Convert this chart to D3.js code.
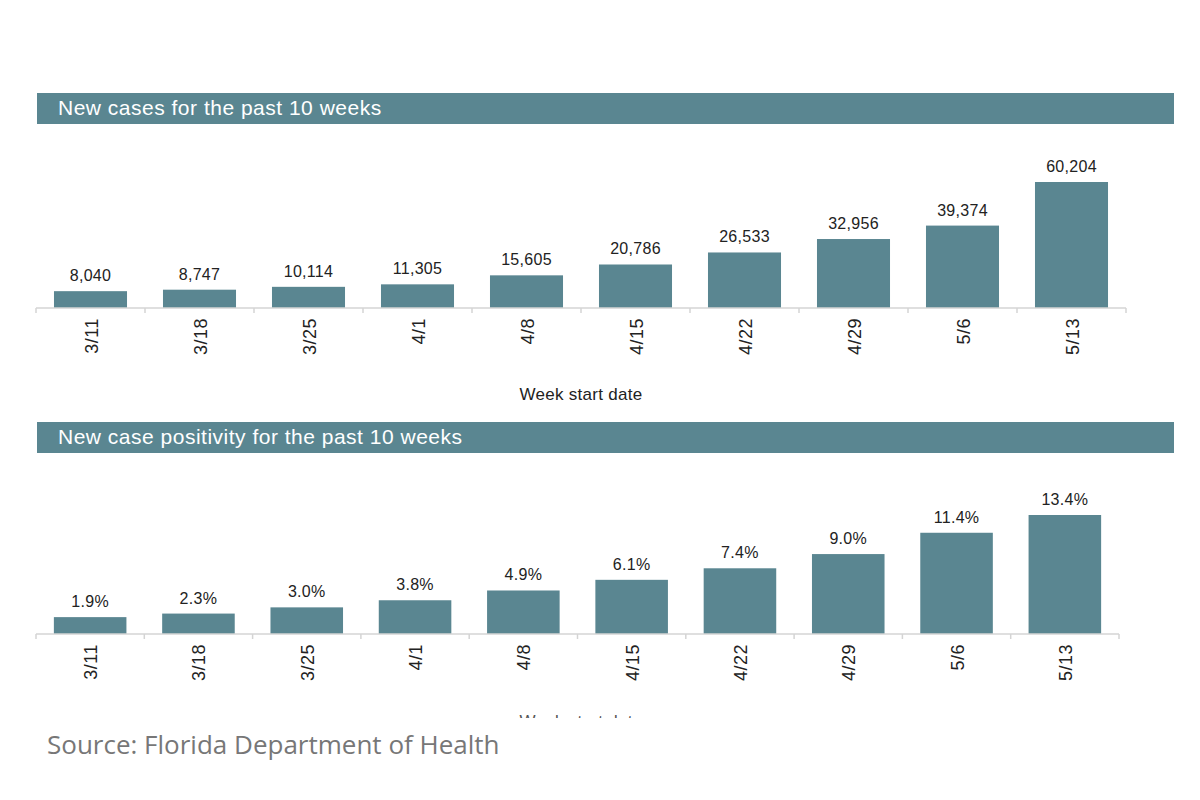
<!DOCTYPE html>
<html>
<head>
<meta charset="utf-8">
<script src="https://cdn.jsdelivr.net/npm/d3@7"></script>
<style>
  body { margin: 0; background: #fff; }
  text { font-family: "Liberation Sans", Arial, sans-serif; }
</style>
</head>
<body>
<div id="chart"></div>
<script>
(function(){

  //data
  var weeks = ["3/11", "3/18", "3/25", "4/1", "4/8", "4/15", "4/22", "4/29", "5/6", "5/13"];
  var newCases = [8040, 8747, 10114, 11305, 15605, 20786, 26533, 32956, 39374, 60204];
  var positivity = [1.9, 2.3, 3.0, 3.8, 4.9, 6.1, 7.4, 9.0, 11.4, 13.4];

  var titles = ["New cases for the past 10 weeks", "New case positivity for the past 10 weeks"];
  var axisTitle = "Week start date";
  var source = "Source: Florida Department of Health";

  var teal = "#5a8691";

  var svg = d3.select("#chart")
      .append("svg")
      .attr("width", 1200)
      .attr("height", 800);

  //one panel = title bar + bar chart + rotated week labels
  function drawPanel(opts){
    var g = svg.append("g");

    //title bar
    g.append("rect")
        .attr("x", 37)
        .attr("y", opts.barTop)
        .attr("width", 1137)
        .attr("height", 31)
        .attr("fill", teal);

    g.append("text")
        .attr("x", 58)
        .attr("y", opts.barTop + 22)
        .attr("fill", "#fff")
        .style("font-size", "21px")
        .style("letter-spacing", "0.5px")
        .text(opts.title);

    var x = d3.scaleBand()
        .domain(weeks)
        .range([opts.x0, opts.x1])
        .paddingInner(0.33)
        .paddingOuter(0.165);

    var y = d3.scaleLinear()
        .domain([0, opts.max])
        .range([opts.base, opts.top]);

    //bars
    g.selectAll(".bar")
        .data(opts.values)
        .enter()
        .append("rect")
        .attr("class", "bar")
        .attr("x", function(d, i){ return x(weeks[i]); })
        .attr("width", x.bandwidth())
        .attr("y", function(d){ return y(d); })
        .attr("height", function(d){ return opts.base - y(d); })
        .attr("fill", teal);

    //value labels
    g.selectAll(".val")
        .data(opts.values)
        .enter()
        .append("text")
        .attr("class", "val")
        .attr("text-anchor", "middle")
        .attr("x", function(d, i){ return x(weeks[i]) + x.bandwidth() / 2; })
        .attr("y", function(d){ return y(d) - 10; })
        .attr("fill", "#222")
        .style("font-size", "16px")
        .style("letter-spacing", "0.3px")
        .text(opts.format);

    //axis line with ticks between categories
    var axis = g.append("g")
        .attr("transform", "translate(0," + opts.base + ")");

    axis.append("line")
        .attr("x1", opts.x0)
        .attr("x2", opts.x1)
        .attr("stroke", "#d4d4d4")
        .attr("stroke-width", 1.5);

    var step = x.step();
    var edges = d3.range(weeks.length + 1).map(function(i){ return opts.x0 + i * step; });
    axis.selectAll(".tk")
        .data(edges)
        .enter()
        .append("line")
        .attr("x1", function(d){ return d; })
        .attr("x2", function(d){ return d; })
        .attr("y1", 0)
        .attr("y2", 5)
        .attr("stroke", "#d4d4d4")
        .attr("stroke-width", 1.5);

    //rotated week labels
    axis.selectAll(".wk")
        .data(weeks)
        .enter()
        .append("text")
        .attr("class", "wk")
        .attr("text-anchor", "end")
        .attr("transform", function(d){
          return "translate(" + (x(d) + x.bandwidth() / 2 + 7) + ",10) rotate(-90)";
        })
        .attr("fill", "#222")
        .style("font-size", "18px")
        .style("letter-spacing", "0.5px")
        .text(function(d){ return d; });

    return g;
  }

  drawPanel({
    title: titles[0], barTop: 93, values: newCases, max: 60204,
    x0: 36, x1: 1126, base: 308, top: 182,
    format: function(d){ return d3.format(",")(d); }
  });

  svg.append("text")
      .attr("x", 581)
      .attr("y", 400)
      .attr("text-anchor", "middle")
      .attr("fill", "#222")
      .style("font-size", "17px")
      .style("letter-spacing", "0.3px")
      .text(axisTitle);

  drawPanel({
    title: titles[1], barTop: 422, values: positivity, max: 13.4,
    x0: 36, x1: 1119, base: 634, top: 515,
    format: function(d){ return d3.format(".1f")(d) + "%"; }
  });

  //second axis title, cut off by the crop of the original picture
  svg.append("clipPath")
      .attr("id", "crop")
      .append("rect")
      .attr("x", 0).attr("y", 714)
      .attr("width", 1200).attr("height", 4);

  svg.append("text")
      .attr("x", 581)
      .attr("y", 727)
      .attr("text-anchor", "middle")
      .attr("fill", "#555")
      .attr("clip-path", "url(#crop)")
      .style("font-size", "17px")
      .style("letter-spacing", "0.3px")
      .text(axisTitle);

  //source line
  svg.append("text")
      .attr("x", 47)
      .attr("y", 754)
      .attr("fill", "#777")
      .style("font-family", "'Open Sans', sans-serif")
      .style("font-size", "26px")
      .text(source);

})();
</script>
</body>
</html>
